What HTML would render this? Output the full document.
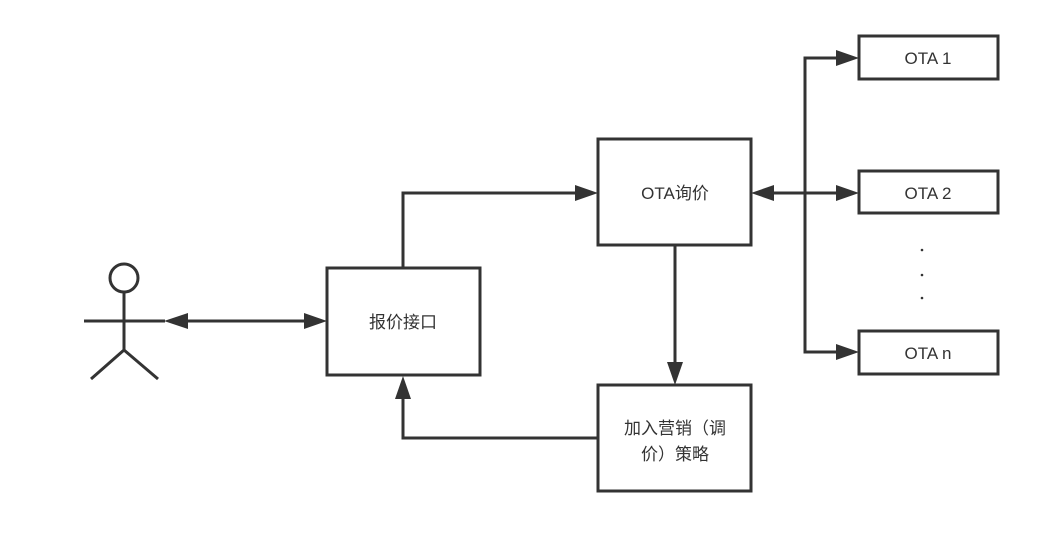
<!DOCTYPE html>
<html><head><meta charset="utf-8"><style>
html,body{margin:0;padding:0;background:#fff;width:1064px;height:552px;overflow:hidden}
text{font-family:"Liberation Sans","Noto Sans CJK SC",sans-serif;fill:#333;font-size:17px}
</style></head><body>
<svg width="1064" height="552" xmlns="http://www.w3.org/2000/svg">
<g fill="none" stroke="#333" stroke-width="3">
<circle cx="124" cy="278" r="14"/>
<line x1="124" y1="292" x2="124" y2="350"/>
<line x1="84" y1="321" x2="165" y2="321"/>
<line x1="124" y1="350" x2="91" y2="379"/>
<line x1="124" y1="350" x2="158" y2="379"/>
<rect x="327" y="268" width="153" height="107"/>
<rect x="598" y="139" width="153" height="106"/>
<rect x="598" y="385" width="153" height="106"/>
<rect x="859" y="36" width="139" height="43"/>
<rect x="859" y="171" width="139" height="42"/>
<rect x="859" y="331" width="139" height="43"/>
<line x1="175" y1="321" x2="310" y2="321"/>
<polyline points="403,268 403,193 580,193"/>
<line x1="675" y1="245" x2="675" y2="367"/>
<polyline points="598,438 403,438 403,393"/>
<line x1="768" y1="193" x2="842" y2="193"/>
<polyline points="842,58 805,58 805,352 842,352"/>
</g>
<g fill="#333">
<polygon points="164,321 188,313 188,329"/>
<polygon points="327,321 304,313 304,329"/>
<polygon points="598,193 575,185 575,201"/>
<polygon points="675,385 667,362 683,362"/>
<polygon points="403,376 395,399 411,399"/>
<polygon points="751,193 774,185 774,201"/>
<polygon points="859,193 836,185 836,201"/>
<polygon points="859,58 836,50 836,66"/>
<polygon points="859,352 836,344 836,360"/>
<circle cx="922" cy="250" r="1.3"/><circle cx="922" cy="275" r="1.3"/><circle cx="922" cy="298" r="1.3"/>
</g>
<text x="403" y="328" text-anchor="middle">报价接口</text>
<text x="675" y="199" text-anchor="middle">OTA询价</text>
<text x="675" y="434" text-anchor="middle">加入营销（调</text>
<text x="675" y="460" text-anchor="middle">价）策略</text>
<text x="928" y="64" text-anchor="middle">OTA 1</text>
<text x="928" y="199" text-anchor="middle">OTA 2</text>
<text x="928" y="359" text-anchor="middle">OTA n</text>
</svg>
</body></html>
